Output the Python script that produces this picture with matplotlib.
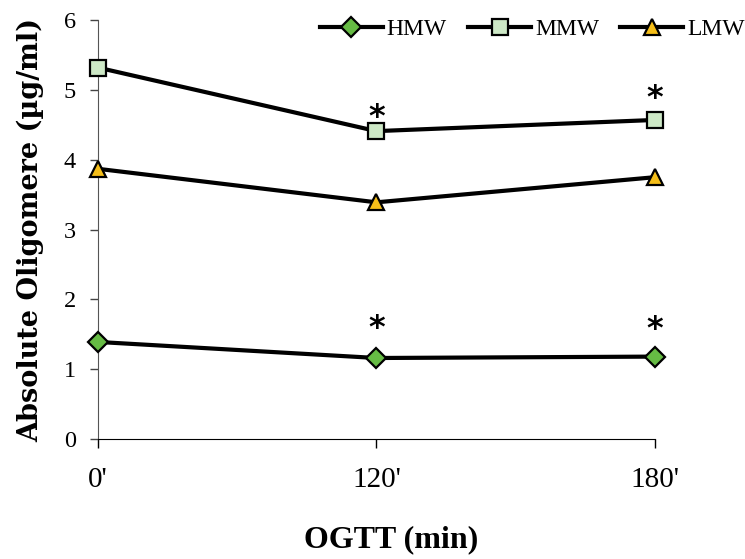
import matplotlib.pyplot as plt

# datos
tiempos = ["0'", "120'", "180'"]
hmw = [1.39, 1.16, 1.18]
mmw = [5.32, 4.41, 4.57]
lmw = [3.87, 3.39, 3.75]
# puntos con asterisco: indice -> separacion vertical (pt)
signif_hmw = {1: 10, 2: 8.5}
signif_mmw = {1: -1.5, 2: 4}

plt.rcParams['font.family'] = ['Liberation Serif', 'DejaVu Serif']

fig = plt.figure(figsize=(7.45, 5.59), dpi=100)
ax = fig.add_axes([0.1315, 0.2147, 0.879 - 0.1315, 0.964 - 0.2147])

x = list(range(len(tiempos)))
estilo = dict(color='black', lw=3, markeredgecolor='black', markeredgewidth=1.6, clip_on=False, zorder=3)
ax.plot(x, hmw, marker='D', markerfacecolor='#66BB44', markersize=10.5, label='HMW', **estilo)
ax.plot(x, mmw, marker='s', markerfacecolor='#CDE8C6', markersize=12, label='MMW', **estilo)
ax.plot(x, lmw, marker='^', markerfacecolor='#F5BE19', markersize=12, label='LMW', **estilo)

for serie, marcas in [(mmw, signif_mmw), (hmw, signif_hmw)]:
    for i, dy in marcas.items():
        ax.annotate('*', (x[i], serie[i]), xytext=(0, dy), textcoords='offset points',
                    ha='center', va='bottom', fontsize=23, fontweight='bold', family='DejaVu Sans')

ax.set_xlim(0, 2)
ax.set_ylim(0, 6)
ax.set_xticks(x)
ax.set_xticklabels(tiempos, fontsize=21)
ax.set_yticks(range(7))
ax.tick_params(axis='y', labelsize=17.5, length=6, width=1, colors='#444444', labelcolor='black', pad=10)
ax.tick_params(axis='x', length=6.5, width=1, pad=14)

for s in ['top', 'right']:
    ax.spines[s].set_visible(False)
ax.spines['left'].set_color('#555555')
ax.spines['bottom'].set_color('black')

ax.set_ylabel('Absolute Oligomere (µg/ml)', fontsize=19.5, fontweight='bold', family='DejaVu Serif')
ax.yaxis.set_label_coords(-0.097, 0.5)
ax.set_xlabel('OGTT (min)', fontsize=23, fontweight='bold')
ax.xaxis.set_label_coords(0.526, -0.205)

ax.legend(ncol=3, loc='center right', bbox_to_anchor=(1.0, 1 - 29 / 559), bbox_transform=fig.transFigure,
          frameon=False, fontsize=17, handlelength=2.67, columnspacing=0.9, handletextpad=0.17,
          borderpad=0, borderaxespad=0)

plt.savefig('out.png', dpi=100)
